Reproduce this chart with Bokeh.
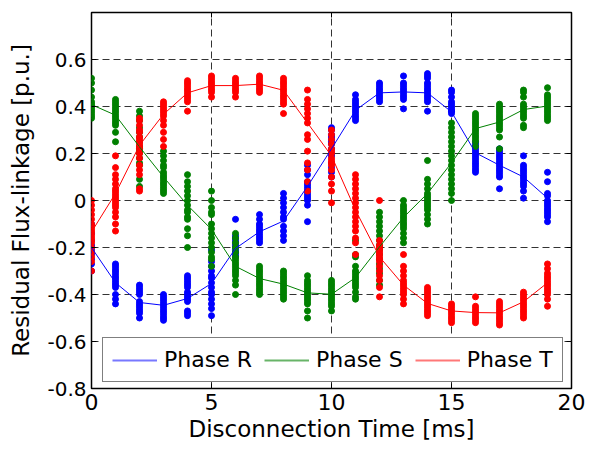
import math

from bokeh.plotting import figure
from bokeh.models import Range1d, FixedTicker, Legend, LegendItem
from bokeh.embed import file_html
from bokeh.resources import INLINE

# Disconnection instants [ms]
time_ms = list(range(20))

# Mean residual flux-linkage per instant [p.u.]
phase_r_mean = [-0.20, -0.35, -0.434, -0.446, -0.417, -0.353, -0.204, -0.133, -0.087, 0.06,
                0.22, 0.384, 0.458, 0.462, 0.458, 0.377, 0.203, 0.150, 0.100, 0.01]
phase_s_mean = [0.408, 0.363, 0.228, 0.10, -0.02, -0.123, -0.28, -0.332, -0.356, -0.393,
                -0.399, -0.328, -0.197, -0.072, 0.03, 0.16, 0.306, 0.334, 0.387, 0.402]
phase_t_mean = [-0.134, 0.03, 0.235, 0.367, 0.458, 0.489, 0.489, 0.495, 0.469, 0.33,
                0.19, -0.041, -0.24, -0.36, -0.438, -0.47, -0.477, -0.478, -0.431, -0.35]

# Individual measurements at each instant [p.u.]
phase_r_samples = [
    [-0.10, -0.14, -0.17, -0.19, -0.20, -0.21, -0.22, -0.23, -0.25, -0.27, -0.30],
    [-0.27, -0.28, -0.29, -0.30, -0.31, -0.32, -0.33, -0.34, -0.35, -0.36, -0.37, -0.40, -0.42, -0.44],
    [-0.36, -0.37, -0.38, -0.39, -0.40, -0.43, -0.44, -0.45, -0.46, -0.47, -0.48, -0.50],
    [-0.40, -0.41, -0.42, -0.43, -0.44, -0.45, -0.46, -0.47, -0.48, -0.49, -0.50, -0.51],
    [-0.32, -0.33, -0.34, -0.35, -0.36, -0.37, -0.39, -0.40, -0.41, -0.42, -0.43, -0.47, -0.48, -0.49],
    [-0.21, -0.26, -0.28, -0.30, -0.32, -0.33, -0.35, -0.37, -0.39, -0.40, -0.42, -0.44, -0.46, -0.49],
    [-0.08, -0.15, -0.16, -0.17, -0.18, -0.19, -0.20, -0.21, -0.22, -0.23, -0.24],
    [-0.06, -0.08, -0.10, -0.11, -0.12, -0.13, -0.14, -0.15, -0.16, -0.17, -0.18],
    [0.03, 0.01, -0.01, -0.03, -0.05, -0.07, -0.08, -0.11, -0.13, -0.15, -0.17],
    [0.15, 0.13, 0.11, 0.08, 0.07, 0.06, 0.05, 0.04, 0.03, 0.02, 0.01, 0.0, -0.02, -0.09],
    [0.31, 0.30, 0.28, 0.27, 0.26, 0.25, 0.24, 0.22, 0.20, 0.19, 0.16, 0.14, 0.12, 0.10],
    [0.45, 0.43, 0.42, 0.41, 0.40, 0.39, 0.38, 0.37, 0.36, 0.35, 0.34],
    [0.50, 0.49, 0.48, 0.47, 0.46, 0.45, 0.44, 0.43, 0.42],
    [0.53, 0.50, 0.49, 0.48, 0.47, 0.46, 0.45, 0.44, 0.43, 0.39],
    [0.54, 0.53, 0.52, 0.50, 0.49, 0.48, 0.47, 0.46, 0.45, 0.44, 0.43, 0.42, 0.38],
    [0.47, 0.46, 0.44, 0.42, 0.41, 0.40, 0.39, 0.38, 0.38, 0.37],
    [0.25, 0.24, 0.23, 0.22, 0.21, 0.20, 0.19, 0.18, 0.17, 0.16, 0.15, 0.14, 0.13, 0.12],
    [0.22, 0.21, 0.20, 0.19, 0.18, 0.17, 0.16, 0.15, 0.14, 0.13, 0.12, 0.11, 0.10, 0.05],
    [0.19, 0.15, 0.14, 0.13, 0.12, 0.11, 0.10, 0.09, 0.08, 0.07, 0.06, 0.04, 0.01],
    [0.12, 0.08, 0.03, 0.02, 0.0, -0.01, -0.02, -0.03, -0.04, -0.05, -0.06, -0.07, -0.09],
]
phase_s_samples = [
    [0.52, 0.50, 0.47, 0.44, 0.42, 0.41, 0.40, 0.39, 0.38, 0.37, 0.36, 0.35],
    [0.43, 0.42, 0.41, 0.40, 0.39, 0.38, 0.37, 0.36, 0.35, 0.34, 0.33, 0.32, 0.29, 0.25],
    [0.38, 0.36, 0.34, 0.31, 0.29, 0.27, 0.25, 0.23, 0.22, 0.21, 0.20, 0.18, 0.16, 0.15, 0.09, 0.06],
    [0.21, 0.19, 0.17, 0.15, 0.14, 0.12, 0.11, 0.10, 0.09, 0.08, 0.07, 0.06, 0.05, 0.04, 0.03],
    [0.11, 0.08, 0.06, 0.04, 0.02, 0.0, -0.02, -0.04, -0.05, -0.07, -0.08, -0.12, -0.15, -0.20],
    [0.04, 0.0, -0.03, -0.05, -0.06, -0.10, -0.12, -0.14, -0.16, -0.18, -0.20, -0.22, -0.24, -0.25, -0.28],
    [-0.14, -0.16, -0.18, -0.20, -0.22, -0.24, -0.25, -0.26, -0.27, -0.28, -0.29, -0.30, -0.31, -0.32, -0.34, -0.36, -0.40],
    [-0.28, -0.29, -0.30, -0.31, -0.32, -0.33, -0.34, -0.35, -0.36, -0.37, -0.38, -0.39, -0.40],
    [-0.30, -0.31, -0.32, -0.33, -0.34, -0.35, -0.36, -0.37, -0.38, -0.39, -0.40, -0.41, -0.42],
    [-0.32, -0.34, -0.35, -0.36, -0.37, -0.38, -0.39, -0.40, -0.41, -0.42, -0.43, -0.44, -0.47, -0.50],
    [-0.34, -0.35, -0.36, -0.37, -0.38, -0.39, -0.40, -0.41, -0.42, -0.43, -0.44, -0.45, -0.47],
    [-0.17, -0.23, -0.24, -0.28, -0.30, -0.31, -0.32, -0.33, -0.34, -0.35, -0.36, -0.37, -0.39, -0.41, -0.42],
    [-0.05, -0.07, -0.09, -0.11, -0.13, -0.15, -0.17, -0.19, -0.20, -0.21, -0.23, -0.25, -0.27, -0.29, -0.31, -0.34, -0.36],
    [0.0, -0.02, -0.03, -0.04, -0.05, -0.06, -0.07, -0.08, -0.09, -0.10, -0.11, -0.12, -0.14, -0.16, -0.18],
    [0.17, 0.09, 0.07, 0.05, 0.03, 0.02, 0.01, 0.0, -0.01, -0.02, -0.03, -0.04, -0.06, -0.08, -0.10],
    [0.33, 0.31, 0.29, 0.27, 0.25, 0.23, 0.21, 0.19, 0.17, 0.15, 0.13, 0.11, 0.09, 0.07, 0.05, 0.03, 0.0],
    [0.37, 0.36, 0.35, 0.34, 0.33, 0.32, 0.31, 0.30, 0.29, 0.28, 0.27, 0.26, 0.25, 0.23],
    [0.41, 0.40, 0.39, 0.38, 0.37, 0.36, 0.35, 0.34, 0.33, 0.32, 0.31, 0.30, 0.27, 0.22],
    [0.47, 0.46, 0.44, 0.41, 0.40, 0.39, 0.38, 0.37, 0.36, 0.35, 0.32, 0.31],
    [0.48, 0.45, 0.44, 0.43, 0.42, 0.41, 0.40, 0.39, 0.38, 0.37, 0.36, 0.35, 0.34],
]
phase_t_samples = [
    [0.0, -0.02, -0.04, -0.06, -0.08, -0.10, -0.11, -0.12, -0.13, -0.14, -0.15, -0.16, -0.17, -0.18, -0.20, -0.22, -0.24, -0.26, -0.30],
    [0.19, 0.14, 0.11, 0.09, 0.07, 0.05, 0.04, 0.03, 0.02, 0.01, 0.0, -0.01, -0.02, -0.03, -0.05, -0.07, -0.10, -0.13],
    [0.35, 0.34, 0.32, 0.30, 0.29, 0.27, 0.26, 0.25, 0.24, 0.23, 0.22, 0.20, 0.18, 0.15, 0.13, 0.11, 0.05, 0.04],
    [0.42, 0.41, 0.40, 0.39, 0.38, 0.37, 0.36, 0.34, 0.32, 0.29, 0.26, 0.23],
    [0.51, 0.50, 0.49, 0.48, 0.47, 0.46, 0.45, 0.44, 0.43, 0.42, 0.38],
    [0.53, 0.52, 0.51, 0.50, 0.49, 0.48, 0.47, 0.46, 0.44],
    [0.52, 0.51, 0.50, 0.49, 0.48, 0.47, 0.46, 0.44],
    [0.53, 0.52, 0.51, 0.50, 0.49, 0.48, 0.47, 0.46],
    [0.52, 0.51, 0.50, 0.49, 0.48, 0.47, 0.46, 0.45, 0.44, 0.43, 0.42, 0.41, 0.37],
    [0.47, 0.43, 0.41, 0.39, 0.37, 0.35, 0.33, 0.28, 0.26, 0.21, 0.16, 0.13, 0.08, 0.04],
    [0.30, 0.28, 0.26, 0.24, 0.22, 0.21, 0.20, 0.18, 0.17, 0.16, 0.15, 0.13, 0.10, 0.07, 0.04, -0.01],
    [0.11, 0.09, 0.07, 0.05, 0.03, 0.01, -0.01, -0.03, -0.05, -0.07, -0.09, -0.11, -0.13, -0.16, -0.18, -0.23],
    [0.0, -0.17, -0.19, -0.20, -0.21, -0.22, -0.23, -0.24, -0.25, -0.26, -0.28, -0.30, -0.32, -0.34, -0.37, -0.41],
    [-0.23, -0.28, -0.30, -0.32, -0.34, -0.35, -0.36, -0.37, -0.38, -0.39, -0.40, -0.42, -0.44],
    [-0.37, -0.38, -0.39, -0.40, -0.41, -0.42, -0.43, -0.44, -0.45, -0.46, -0.47, -0.48, -0.49],
    [-0.44, -0.45, -0.46, -0.47, -0.48, -0.49, -0.50, -0.51, -0.52],
    [-0.41, -0.45, -0.46, -0.47, -0.48, -0.49, -0.50, -0.51, -0.52],
    [-0.43, -0.44, -0.45, -0.46, -0.47, -0.48, -0.49, -0.50, -0.51, -0.52, -0.53],
    [-0.39, -0.40, -0.41, -0.42, -0.43, -0.44, -0.45, -0.46, -0.47, -0.48, -0.49, -0.50],
    [-0.27, -0.29, -0.31, -0.32, -0.33, -0.34, -0.35, -0.36, -0.37, -0.38, -0.39, -0.40, -0.42, -0.45],
]

phase_names = ["Phase R", "Phase S", "Phase T"]
phase_colors = ["#0000ff", "#008000", "#ff0000"]
legend_colors = ["#7878ff", "#68b468", "#ff7878"]

x_limits = (0, 20)
y_limits = (-0.8, 0.8)
x_ticks = [0, 5, 10, 15, 20]
y_ticks = [-0.8, -0.6, -0.4, -0.2, 0.0, 0.2, 0.4, 0.6]
y_tick_labels = ["-0.8", "-0.6", "-0.4", "-0.2", "0", "0.2", "0.4", "0.6"]

FONT = "DejaVu Sans"

p = figure(width=590, height=449, output_backend="svg", toolbar_location=None,
           x_range=Range1d(*x_limits), y_range=Range1d(*y_limits),
           min_border_left=91, min_border_right=19, min_border_top=12,
           min_border_bottom=61)
p.background_fill_color = "white"
p.border_fill_color = "white"
p.outline_line_color = "black"
p.outline_line_width = 1.5

# dashed grid
for g in (p.xgrid, p.ygrid):
    g.grid_line_color = "#333333"
    g.grid_line_dash = "7 4"
    g.grid_line_width = 1
p.xgrid.ticker = FixedTicker(ticks=x_ticks)
p.ygrid.ticker = FixedTicker(ticks=y_ticks)

# bottom / left axes, ticks pointing inward
xa = p.xaxis[0]
xa.ticker = FixedTicker(ticks=x_ticks)
xa.axis_label = "Disconnection Time [ms]"
ya = p.yaxis[0]
ya.ticker = FixedTicker(ticks=y_ticks)
ya.axis_label = "Residual Flux-linkage [p.u.]"
ya.major_label_overrides = {t: s for t, s in zip(y_ticks, y_tick_labels)}

for ax in (xa, ya):
    ax.axis_line_color = None
    ax.major_tick_in = 5
    ax.major_tick_out = 0
    ax.minor_tick_in = 0
    ax.minor_tick_out = 0
    ax.major_tick_line_color = "black"
    ax.major_label_text_font = FONT
    ax.major_label_text_color = "black"
    ax.axis_label_text_font = FONT
    ax.axis_label_text_font_style = "normal"
    ax.axis_label_text_color = "black"
    ax.axis_label_text_font_size = "23px"
    ax.major_label_standoff = 5
xa.major_label_text_font_size = "22px"
ya.major_label_text_font_size = "20px"
xa.axis_label_standoff = 3
ya.axis_label_standoff = 10

# inward tick marks along the top and right edges of the box
p.scatter(x_ticks, [y_limits[1]] * len(x_ticks), marker="dash", angle=math.pi / 2,
          size=10, line_color="black", line_width=1)
p.scatter([x_limits[1]] * len(y_ticks), y_ticks, marker="dash",
          size=10, line_color="black", line_width=1)

# measurements and mean curves
all_samples = [phase_r_samples, phase_s_samples, phase_t_samples]
all_means = [phase_r_mean, phase_s_mean, phase_t_mean]
for samples, color in zip(all_samples, phase_colors):
    xs, ys = [], []
    for t, vals in zip(time_ms, samples):
        xs.extend([t] * len(vals))
        ys.extend(vals)
    p.scatter(xs, ys, size=6, color=color, line_color=color)

items = []
for name, means, color, lcolor in zip(phase_names, all_means, phase_colors, legend_colors):
    p.line(time_ms, means, line_color=color, line_width=1)
    # legend key: same series, softer stroke, not drawn on the plot itself
    key = p.line(time_ms, means, line_color=lcolor, line_width=2, visible=False)
    items.append(LegendItem(label=name, renderers=[key]))

legend = Legend(items=items, orientation="horizontal", location=(11, 6),
                label_text_font=FONT, label_text_font_size="22px",
                label_text_color="black", glyph_width=45, glyph_height=20,
                label_standoff=7, spacing=12, padding=9, margin=0,
                click_policy="none", inactive_fill_alpha=0,
                border_line_color="black", border_line_width=1.5,
                background_fill_color="white", background_fill_alpha=1)
p.add_layout(legend)

open("out.html", "w").write(file_html(p, INLINE))
